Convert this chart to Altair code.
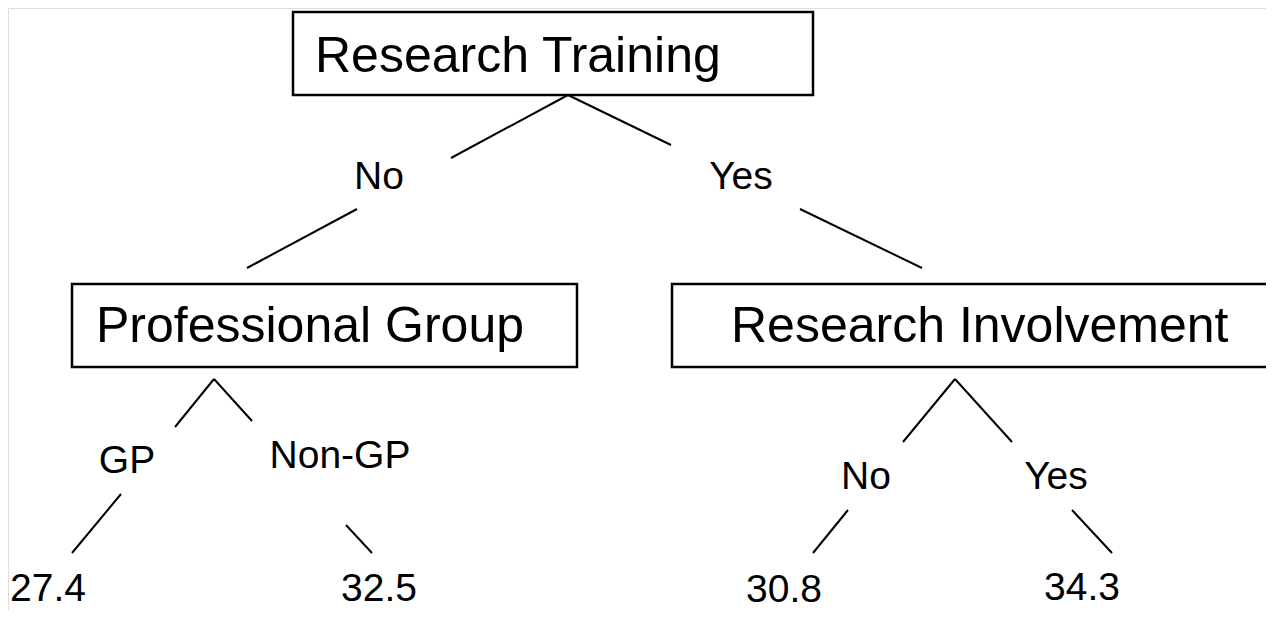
import altair as alt
import pandas as pd

# ---- data (tree content) ----
node_names = ["Research Training", "Professional Group", "Research Involvement"]
branch_labels = ["No", "Yes", "GP", "Non-GP", "No", "Yes"]
leaf_values = [27.4, 32.5, 30.8, 34.3]

# ---- layout (screen pixel coordinates of the diagram) ----
node_box_x = [293, 72, 672]
node_box_x2 = [813, 577, 1290]
node_box_y = [12, 284, 284]
node_box_y2 = [95, 367, 367]
node_text_x = [315, 96, 731]
node_text_y = [72, 342, 342]

branch_x = [379, 741, 127, 340, 866, 1056]
branch_y = [189, 189, 473, 468, 489, 489]

leaf_x = [48, 379, 784, 1082]
leaf_y = [601, 601, 602, 600]

edge_x1 = [568, 568, 357, 800, 214, 214, 121, 346, 955, 955, 848, 1072]
edge_y1 = [95, 95, 209, 209, 379, 379, 494, 525, 379, 379, 510, 510]
edge_x2 = [451, 671, 247, 922, 175, 252, 72, 372, 903, 1012, 813, 1112]
edge_y2 = [158, 145, 268, 268, 427, 421, 553, 553, 442, 442, 553, 553]

W, H = 1258, 602
xs = alt.Scale(domain=[8, 8 + W], range=[0, W], nice=False, zero=False)
ys = alt.Scale(domain=[8, 8 + H], range=[0, H], nice=False, zero=False)
FONT = "Liberation Sans"

boxes = pd.DataFrame({"name": node_names, "x": node_box_x, "x2": node_box_x2,
                      "y": node_box_y, "y2": node_box_y2,
                      "tx": node_text_x, "ty": node_text_y})
branches = pd.DataFrame({"label": branch_labels, "x": branch_x, "y": branch_y})
leaves = pd.DataFrame({"value": [f"{v:.1f}" for v in leaf_values], "x": leaf_x, "y": leaf_y})
edges = pd.DataFrame({"x": edge_x1, "y": edge_y1, "x2": edge_x2, "y2": edge_y2})

ax = None
box_layer = alt.Chart(boxes).mark_rect(fill="white", stroke="black", strokeWidth=2.5).encode(
    x=alt.X("x:Q", scale=xs, axis=ax), x2="x2:Q",
    y=alt.Y("y:Q", scale=ys, axis=ax), y2="y2:Q")
box_text = alt.Chart(boxes).mark_text(align="left", baseline="alphabetic", fontSize=50,
                                      font=FONT, color="black").encode(
    x=alt.X("tx:Q", scale=xs, axis=ax), y=alt.Y("ty:Q", scale=ys, axis=ax), text="name:N")
edge_layer = alt.Chart(edges).mark_rule(color="black", strokeWidth=2).encode(
    x=alt.X("x:Q", scale=xs, axis=ax), y=alt.Y("y:Q", scale=ys, axis=ax),
    x2="x2:Q", y2="y2:Q")
branch_text = alt.Chart(branches).mark_text(align="center", baseline="alphabetic", fontSize=39,
                                            font=FONT, color="black").encode(
    x=alt.X("x:Q", scale=xs, axis=ax), y=alt.Y("y:Q", scale=ys, axis=ax), text="label:N")
leaf_text = alt.Chart(leaves).mark_text(align="center", baseline="alphabetic", fontSize=39,
                                        font=FONT, color="black").encode(
    x=alt.X("x:Q", scale=xs, axis=ax), y=alt.Y("y:Q", scale=ys, axis=ax), text="value:N")

chart = alt.layer(edge_layer, box_layer, box_text, branch_text, leaf_text).properties(
    width=W, height=H, padding=0, autosize=alt.AutoSizeParams(type="none")
).configure_view(stroke=None).configure(background="white")

chart.save("out.html", embed_options={"renderer": "svg", "actions": False})
